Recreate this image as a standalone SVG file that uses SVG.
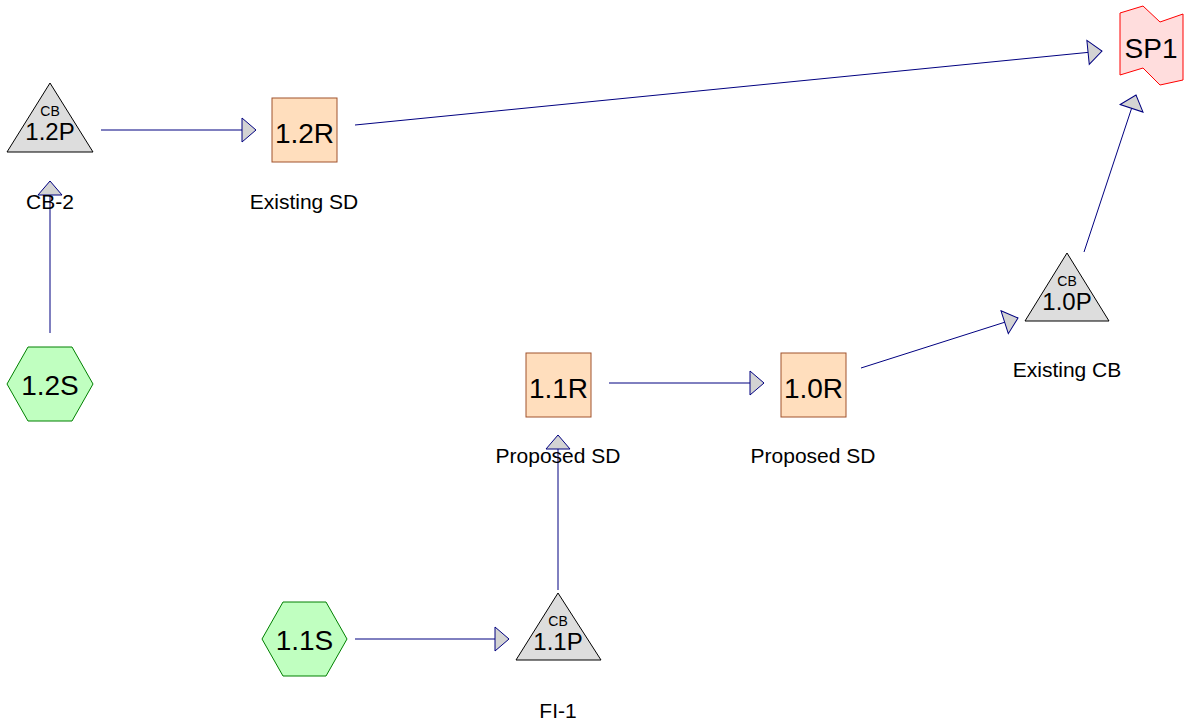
<svg xmlns="http://www.w3.org/2000/svg" width="1187" height="727" viewBox="0 0 1187 727">
<style>
text{font-family:"Liberation Sans",Arial,sans-serif;fill:#000;text-anchor:middle}
.big{font-size:28px}
.tb{font-size:24px}
.cb{font-size:14px}
.lbl{font-size:21px}
.tri{fill:#DDDDDD;stroke:#000;stroke-width:1}
.hex{fill:#C0FFC0;stroke:#008000;stroke-width:1}
.rec{fill:#FFDEBD;stroke:#A0522D;stroke-width:1}
.flag{fill:#FFDDDD;stroke:#FF0000;stroke-width:1}
.edge{stroke:#000080;stroke-width:1;fill:none;marker-end:url(#ah)}
</style>
<defs>
<marker id="ah" markerUnits="userSpaceOnUse" markerWidth="16" markerHeight="28" viewBox="-1 -13 16 26" refX="14" refY="0" orient="auto">
<path d="M0,-12 L14,0 L0,12 Z" fill="#D3D3D3" stroke="#000080" stroke-width="1"/>
</marker>
</defs>
<g id="connectors">
<line class="edge" x1="50" y1="333" x2="50" y2="181"/>
<line class="edge" x1="101" y1="130" x2="256" y2="130"/>
<line class="edge" x1="355" y1="125" x2="1102" y2="51"/>
<line class="edge" x1="1084" y1="252" x2="1136" y2="95"/>
<line class="edge" x1="861" y1="368" x2="1018" y2="318"/>
<line class="edge" x1="609" y1="383" x2="764" y2="383"/>
<line class="edge" x1="355" y1="639" x2="509" y2="639"/>
<line class="edge" x1="558" y1="590" x2="558" y2="435"/>
</g>
<g id="n12P">
<polygon class="tri" points="50,83 93,152 7,152"/>
<text class="cb" x="50" y="116">CB</text>
<text class="tb" x="50" y="140">1.2P</text>
<text class="lbl" x="50" y="209">CB-2</text>
</g>
<g id="n12R">
<rect class="rec" x="272" y="98" width="65" height="64"/>
<text class="big" x="304.5" y="143">1.2R</text>
<text class="lbl" x="304" y="209">Existing SD</text>
</g>
<g id="nSP1">
<polygon class="flag" points="1120,13 1143,6 1160,22 1183,14 1183,80 1160,85 1143,68 1120,75"/>
<text class="big" x="1151" y="58">SP1</text>
</g>
<g id="n12S">
<polygon class="hex" points="7,384 28,347 72,347 93,384 72,421 28,421"/>
<text class="big" x="50" y="395">1.2S</text>
</g>
<g id="n10P">
<polygon class="tri" points="1067,253 1109,321 1025,321"/>
<text class="cb" x="1067" y="286">CB</text>
<text class="tb" x="1067" y="310">1.0P</text>
<text class="lbl" x="1067" y="377">Existing CB</text>
</g>
<g id="n11R">
<rect class="rec" x="526" y="353" width="65" height="64"/>
<text class="big" x="558.5" y="398">1.1R</text>
<text class="lbl" x="558" y="463">Proposed SD</text>
</g>
<g id="n10R">
<rect class="rec" x="781" y="353" width="65" height="64"/>
<text class="big" x="813.5" y="398">1.0R</text>
<text class="lbl" x="813" y="463">Proposed SD</text>
</g>
<g id="n11S">
<polygon class="hex" points="262,639 283,602 326,602 347,639 326,676 283,676"/>
<text class="big" x="304.5" y="650">1.1S</text>
</g>
<g id="n11P">
<polygon class="tri" points="558,593 601,660 516,660"/>
<text class="cb" x="558" y="626">CB</text>
<text class="tb" x="558" y="650">1.1P</text>
<text class="lbl" x="558" y="718">FI-1</text>
</g>
</svg>
